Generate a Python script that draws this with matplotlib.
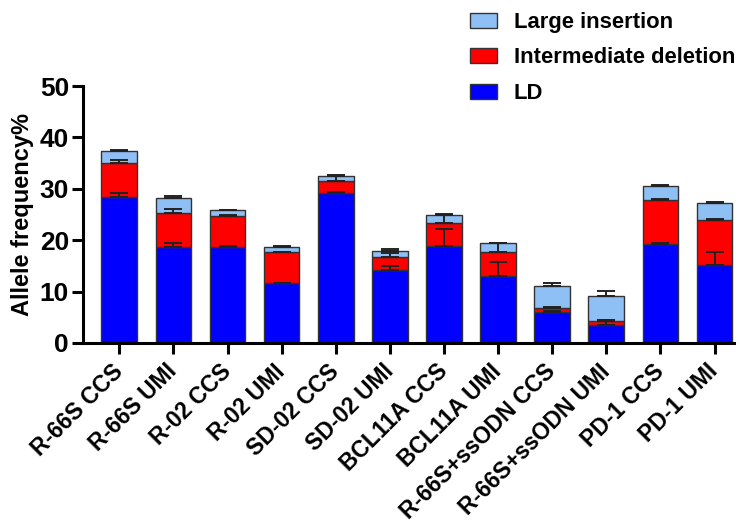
import matplotlib
matplotlib.use("Agg")
import matplotlib.pyplot as plt
from matplotlib.patches import Patch
import numpy as np

categories = ["R-66S CCS", "R-66S UMI", "R-02 CCS", "R-02 UMI", "SD-02 CCS", "SD-02 UMI",
              "BCL11A CCS", "BCL11A UMI", "R-66S+ssODN CCS", "R-66S+ssODN UMI",
              "PD-1 CCS", "PD-1 UMI"]
ld = [28.5, 18.75, 18.75, 11.6, 29.1, 14.2, 18.95, 13.1, 6.0, 3.55, 19.2, 15.2]
idel = [6.5, 6.6, 6.05, 6.1, 2.5, 2.6, 4.35, 4.7, 0.9, 0.75, 8.7, 8.7]
lins = [2.3, 2.95, 1.0, 1.05, 0.9, 1.1, 1.7, 1.6, 4.2, 4.9, 2.7, 3.4]
ld_err = [0.6, 0.75, 0.1, 0.1, 0.25, 0.7, 3.25, 2.75, 0.3, 0.95, 0.3, 2.45]
idel_err = [0.6, 0.75, 0.1, 0.1, 0.9, 0.8, 1.7, 1.65, 0.2, 0.2, 0.2, 0.3]
lins_err = [0.3, 0.25, 0.1, 0.1, 0.2, 0.3, 0.15, 0.15, 0.55, 0.9, 0.2, 0.2]
yticks = [0, 10, 20, 30, 40, 50]

c_ld = "#0000FF"
c_id = "#FF0000"
c_li = "#8EBFF5"

plt.rcParams['font.family'] = ['Liberation Sans', 'DejaVu Sans']
plt.rcParams['font.weight'] = 'bold'

fig = plt.figure(figsize=(7.4, 5.23), dpi=100)
ax = fig.add_axes([83/740, 1-343/523, (734-83)/740, (343-86)/523])

x = np.arange(len(categories))
w = 0.66
ld_a = np.array(ld); id_a = np.array(idel); li_a = np.array(lins)
ek = dict(edgecolor="#333333", linewidth=1.0, zorder=2)
ax.bar(x, ld_a, w, color=c_ld, **ek)
ax.bar(x, id_a, w, bottom=ld_a, color=c_id, **ek)
ax.bar(x, li_a, w, bottom=ld_a + id_a, color=c_li, **ek)

zeros = np.zeros(len(x))
eb = dict(fmt='none', ecolor="#222222", elinewidth=1.4, capsize=6.5, capthick=1.4, zorder=3)
ax.errorbar(x, ld_a, yerr=[zeros, ld_err], **eb)
ax.errorbar(x, ld_a + id_a, yerr=[zeros, idel_err], **eb)
ax.errorbar(x, ld_a + id_a + li_a, yerr=[zeros, lins_err], **eb)

ax.set_xlim(-0.671, 11.36)
ax.set_ylim(0, 50)
ax.set_yticks(yticks)
ax.set_yticklabels([str(t) for t in yticks], fontsize=19, fontweight='bold')
ax.set_xticks(x)
ax.set_xticklabels(categories, rotation=45, ha='right', va='center',
                   rotation_mode='anchor', fontsize=16.5, fontweight='bold')
ax.tick_params(axis='y', length=8, width=2.2, pad=2)
ax.tick_params(axis='x', length=8, width=2.2, pad=10)
for s in ['top', 'right']:
    ax.spines[s].set_visible(False)
for s in ['left', 'bottom']:
    ax.spines[s].set_linewidth(2.2)
ax.set_ylabel("Allele frequency%", fontsize=17, fontweight='bold', labelpad=4)

handles = [Patch(facecolor=c_li, edgecolor="#333333", linewidth=1.0, label="Large insertion"),
           Patch(facecolor=c_id, edgecolor="#333333", linewidth=1.0, label="Intermediate deletion"),
           Patch(facecolor=c_ld, edgecolor="#333333", linewidth=1.0, label="LD")]
leg = fig.legend(handles=handles, loc='upper left', bbox_to_anchor=(470/740, 1-12/523),
                 frameon=False, handlelength=1.25, handleheight=0.65,
                 handletextpad=0.75, labelspacing=0.66, borderpad=0, borderaxespad=0,
                 prop={'weight': 'bold', 'size': 15.8})

fig.savefig("out.png", dpi=100)
